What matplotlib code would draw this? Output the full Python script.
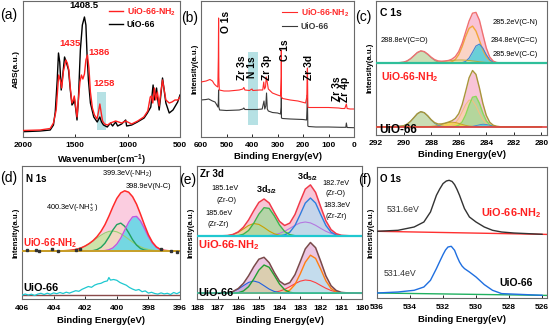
import numpy as np
import matplotlib
matplotlib.use("Agg")
import matplotlib.pyplot as plt
from matplotlib.patches import Rectangle

plt.rcParams['font.family'] = ['Liberation Sans', 'DejaVu Sans']
plt.rcParams['mathtext.fontset'] = 'custom'
plt.rcParams['mathtext.rm'] = 'Liberation Sans'
plt.rcParams['mathtext.it'] = 'Liberation Sans'
plt.rcParams['mathtext.bf'] = 'Liberation Sans:bold'

# ---------------- (a) FTIR ----------------
ftir_w_uio = [2000, 1837, 1740, 1709, 1692, 1673, 1661, 1649, 1635, 1620, 1603, 1587, 1565, 1548, 1532,
              1519, 1510, 1495, 1484, 1471, 1452, 1433, 1413, 1399, 1388, 1375, 1356, 1324, 1291, 1266,
              1250, 1231, 1195, 1164, 1144, 1115, 1096, 1058, 1019, 1010, 962, 907, 843, 811, 779,
              757, 745, 724, 712, 699, 683, 667, 654, 635, 603, 567, 522, 500]
ftir_abs_uio = [5.3, 6, 7, 12, 25, 57, 84, 75, 47, 62, 80, 75, 67, 47, 32,
                34, 39, 27, 17, 37, 87, 112, 120, 112, 82, 57, 34, 20, 15, 20,
                15, 12, 10, 14, 11, 15, 11, 13, 17, 11, 12, 15, 19, 24, 30,
                52, 37, 49, 37, 27, 42, 59, 49, 34, 24, 27, 35, 42]
ftir_w_nh2 = [2000, 1837, 1740, 1709, 1683, 1659, 1644, 1630, 1615, 1591, 1577, 1562, 1548, 1532, 1519,
              1510, 1495, 1484, 1471, 1456, 1442, 1428, 1413, 1399, 1384, 1370, 1356, 1337, 1317, 1293,
              1279, 1266, 1254, 1240, 1221, 1192, 1164, 1115, 1058, 1019, 962, 904, 846, 808, 784,
              774, 760, 745, 731, 716, 699, 683, 667, 654, 635, 603, 577, 548, 519, 500]
ftir_abs_nh2 = [6.5, 7, 8.5, 14, 27, 62, 57, 49, 65, 77, 74, 67, 49, 34, 37,
                41, 29, 20, 37, 55, 62, 58, 63, 77, 82, 69, 45, 29, 22, 18,
                25, 33, 25, 16, 13, 12, 14, 16, 14, 16, 13, 16, 20, 26, 40,
                41, 34, 49, 37, 45, 31, 45, 57, 49, 37, 34, 35, 37, 37, 40]
ftir_box = [1211, 1291, 7, 45]   # w1, w2, y1, y2

# ---------------- (b) XPS survey ----------------
sur_be_nh2 = [600, 580, 565, 555, 548, 540, 534, 532, 531, 530, 528, 510, 490, 450, 436,
              432, 428, 410, 400, 397, 370, 358, 354, 351, 347, 344, 341, 336, 320, 300,
              288, 285.5, 285, 284.5, 280, 250, 220, 190, 185, 183.5, 182.5, 181, 178, 150, 100,
              60, 48, 36, 30, 27, 15, 0]
sur_i_nh2 = [55, 56, 57.5, 56, 53, 51, 50, 80, 119, 60, 47, 46, 46, 47, 48,
             49.5, 47, 46.5, 48, 46.5, 47, 47, 55, 48, 50, 60, 56, 48, 44, 42,
             41, 60, 87, 40, 38.5, 37, 36, 34, 40, 66, 69, 30, 29.5, 29.5, 29.5,
             29, 28.5, 28.5, 33, 28.5, 28, 28]
sur_be_uio = [600, 580, 570, 555, 545, 538, 534, 532, 531, 530, 527, 500, 450, 436, 432,
              428, 380, 360, 353, 350, 346, 343, 340, 336, 320, 300, 288, 285.5, 285, 284.5,
              280, 250, 200, 186, 184, 183, 181, 178, 150, 100, 50, 32, 30, 27, 0]
sur_i_uio = [37, 37.5, 38, 36, 35, 32, 30, 35, 47, 30, 27, 26.5, 27, 28, 29,
             27.5, 27.5, 28, 36, 28, 31, 44, 28, 26, 24.5, 24, 23, 30, 42, 19,
             18.5, 18, 17.5, 17, 30, 42, 11, 10.5, 10, 10, 9.7, 9.7, 14, 9.5, 9.3]
sur_box = [375, 416, 12, 85]

# ---------------- (c) C 1s ----------------
c1s_be = [292.0, 291.0, 290.5, 290.0, 289.75, 289.5, 289.25, 289.0, 288.75, 288.5, 288.25, 288.0,
          287.75, 287.5, 287.25, 287.0, 286.75, 286.5, 286.25, 286.0, 285.75, 285.5, 285.25, 285.0,
          284.75, 284.5, 284.25, 284.0, 283.75, 283.5, 283.25, 283.0, 282.5, 282.0, 281.0, 280.0]
c1s_nh2_env = [0, 0, 0.1, 0.8, 2.0, 4.2, 7.3, 10.5, 12.1, 11.4, 8.9, 5.8,
               3.4, 2.1, 1.8, 2.0, 2.5, 3.8, 6.4, 11.5, 19.9, 30.9, 42.0, 49.8,
               50.6, 42.8, 28.7, 14.9, 5.9, 1.9, 0.5, 0.1, 0, 0, 0, 0]
c1s_nh2_co = [0, 0, 0.1, 0.8, 2.0, 4.2, 7.3, 10.4, 12.0, 11.2, 8.6, 5.4,
              2.7, 1.1, 0.4, 0.1, 0, 0, 0, 0, 0, 0, 0, 0,
              0, 0, 0, 0, 0, 0, 0, 0, 0, 0, 0, 0]
c1s_nh2_cn = [0, 0, 0, 0, 0, 0, 0, 0, 0, 0, 0, 0,
              0, 0, 0, 0.1, 0.3, 1.2, 3.5, 8.4, 16.5, 26.5, 34.6, 36.9,
              31.9, 22.6, 13.0, 6.1, 2.3, 0.7, 0.2, 0, 0, 0, 0, 0]
c1s_nh2_cc = [0, 0, 0, 0, 0, 0, 0, 0, 0, 0, 0, 0,
              0, 0, 0, 0, 0, 0, 0, 0.1, 0.4, 1.6, 4.9, 10.8,
              17.0, 18.9, 14.8, 8.2, 3.2, 0.9, 0.2, 0, 0, 0, 0, 0]
c1s_nh2_c_c = [0, 0, 0, 0, 0, 0, 0, 0.05, 0.1, 0.15, 0.25, 0.4,
               0.65, 1.0, 1.35, 1.75, 2.2, 2.6, 2.85, 3.0, 3.0, 2.8, 2.5, 2.1,
               1.7, 1.25, 0.9, 0.6, 0.4, 0.25, 0.12, 0.07, 0, 0, 0, 0]
c1s_uio_env = [0, 0, 0.1, 0.9, 2.5, 5.3, 9.1, 13.0, 15.0, 14.0, 10.9, 7.0,
               4.1, 2.7, 2.8, 3.5, 4.6, 5.9, 8.3, 13.0, 22.1, 35.2, 48.9, 56.2,
               52.3, 38.8, 23.2, 11.2, 4.4, 1.5, 0.4, 0, 0, 0, 0, 0]
c1s_uio_co = [0, 0, 0.1, 0.9, 2.5, 5.3, 9.1, 13.0, 15.0, 14.0, 10.8, 6.7,
              3.4, 1.4, 0.5, 0.1, 0, 0, 0, 0, 0, 0, 0, 0,
              0, 0, 0, 0, 0, 0, 0, 0, 0, 0, 0, 0]
c1s_uio_yel = [0, 0, 0, 0, 0, 0, 0, 0, 0, 0, 0.1, 0.3,
               0.65, 1.3, 2.25, 3.3, 4.2, 4.5, 4.2, 3.3, 2.25, 1.3, 0.65, 0.3,
               0.1, 0, 0, 0, 0, 0, 0, 0, 0, 0, 0, 0]
c1s_uio_peach = [0, 0, 0, 0, 0, 0, 0, 0, 0, 0, 0, 0,
                 0, 0, 0, 0.1, 0.4, 1.35, 3.7, 8.2, 15.0, 22.1, 26.6, 26.0,
                 20.8, 13.5, 7.1, 3.1, 1.1, 0.3, 0.1, 0, 0, 0, 0, 0]
c1s_uio_green = [0, 0, 0, 0, 0, 0, 0, 0, 0, 0, 0, 0,
                 0, 0, 0, 0, 0, 0, 0.35, 1.5, 4.8, 11.8, 21.5, 29.5,
                 30.3, 23.4, 13.6, 5.9, 1.9, 0.5, 0.1, 0, 0, 0, 0, 0]
c1s_uio_cyan = [0, 0, 0, 0, 0, 0, 0, 0, 0, 0, 0, 0,
                0, 0, 0, 0, 0, 0, 0, 0, 0, 0, 0.1, 0.4,
                1.1, 1.9, 2.5, 2.2, 1.4, 0.65, 0.2, 0, 0, 0, 0, 0]

# ---------------- (d) N 1s ----------------
n1s_be = [406.0, 405.0, 404.0, 403.5, 403.0, 402.75, 402.5, 402.25, 402.0, 401.75, 401.5,
          401.25, 401.0, 400.75, 400.5, 400.25, 400.0, 399.75, 399.5, 399.25, 399.0,
          398.75, 398.5, 398.25, 398.0, 397.75, 397.5, 397.25, 397.0, 396.5, 396.0]
n1s_env = [0, 0, 0, 0.1, 0.6, 1.1, 1.9, 3.2, 5.0, 7.4, 10.4,
           14.4, 19.6, 26.3, 34.8, 44.1, 52.5, 58.1, 60.2, 58.8, 54.3,
           46.8, 36.8, 26.1, 16.3, 8.9, 4.2, 1.7, 0.6, 0, 0]
n1s_nh3 = [0, 0, 0.03, 0.14, 0.6, 1.1, 1.9, 3.2, 5.0, 7.3, 10.0,
           13.0, 15.8, 18.1, 19.6, 20.0, 19.2, 17.3, 14.7, 11.8, 8.9,
           6.3, 4.2, 2.6, 1.6, 0.9, 0.46, 0.2, 0.1, 0, 0]
n1s_nh2 = [0, 0, 0, 0, 0, 0, 0, 0, 0, 0.1, 0.4,
           1.4, 3.7, 7.8, 14.0, 21.0, 26.4, 27.9, 24.7, 18.3, 11.3,
           5.9, 2.5, 1.0, 0.3, 0.1, 0, 0, 0, 0, 0]
n1s_nc = [0, 0, 0, 0, 0, 0, 0, 0, 0, 0, 0,
          0, 0.1, 0.4, 1.2, 3.1, 6.9, 12.9, 20.8, 28.7, 34.1,
          34.6, 30.1, 22.5, 14.4, 7.9, 3.7, 1.5, 0.5, 0.04, 0]
n1s_pts_be = [405.7, 405.1, 404.9, 404.1, 403.7, 402.6, 402.3, 397.2, 396.6, 396.2]
n1s_pts_i = [48.5, 48.3, 47.0, 49.5, 47.2, 48.2, 49.0, 49.5, 47.5, 46.5]
n1s_uio_be = [406.0, 405.8, 405.6, 405.4, 405.2, 405.0, 404.8, 404.6, 404.4, 404.2, 404.0, 403.8, 403.6,
              403.4, 403.2, 403.0, 402.8, 402.6, 402.4, 402.2, 402.0, 401.8, 401.6, 401.4, 401.2, 401.0,
              400.8, 400.6, 400.5, 400.4, 400.2, 400.0, 399.8, 399.6, 399.4, 399.2, 399.0, 398.8, 398.6,
              398.4, 398.2, 398.0, 397.8, 397.6, 397.4, 397.2, 397.0, 396.8, 396.6, 396.4, 396.2, 396.0]
n1s_uio_i = [3.3, 4.5, 3.5, 4.3, 3.0, 4.4, 5.2, 4.0, 5.3, 4.2, 5.6, 4.8, 6.0,
             5.0, 6.3, 5.4, 6.6, 7.8, 7.2, 9.2, 10.6, 12.0, 11.2, 13.4, 14.6, 15.2,
             16.8, 17.6, 21.0, 18.4, 19.0, 18.2, 16.0, 14.6, 13.3, 11.0, 9.4, 8.2, 9.0,
             6.8, 7.6, 5.4, 6.2, 5.0, 4.4, 5.6, 4.6, 5.2, 4.0, 6.0, 4.8, 6.4]

# ---------------- (e) Zr 3d ----------------
zr_be = [188.0, 187.0, 186.5, 186.25, 186.0, 185.75, 185.5, 185.25, 185.0, 184.75, 184.5, 184.25,
         184.0, 183.75, 183.5, 183.25, 183.0, 182.75, 182.5, 182.25, 182.0, 181.75, 181.5, 181.25,
         181.0, 180.5, 180.0]
zr_nh2_env = [0, 0, 0.5, 1.6, 4.1, 8.8, 16.0, 25.2, 33.6, 37.0, 33.0, 23.5,
              14.6, 10.5, 12.9, 21.5, 34.6, 46.9, 51.1, 43.6, 29.0, 15.2, 6.4, 2.3,
              0.7, 0.1, 0]
zr_nh2_zro32 = [0, 0, 0, 0.1, 0.4, 1.8, 5.5, 12.7, 21.9, 28.3, 27.6, 20.1,
                11.0, 4.5, 1.4, 0.3, 0.05, 0, 0, 0, 0, 0, 0, 0, 0, 0, 0]
zr_nh2_zrzr32 = [0, 0, 0.5, 1.5, 3.7, 7.0, 10.5, 12.5, 11.6, 8.5, 4.9, 2.2,
                 0.8, 0.2, 0.05, 0, 0, 0, 0, 0, 0, 0, 0, 0, 0, 0, 0]
zr_nh2_zro52 = [0, 0, 0, 0, 0, 0, 0, 0, 0, 0, 0, 0.03,
                0.2, 1.1, 3.8, 10.5, 21.4, 32.9, 38.0, 32.9, 21.4, 10.5, 3.8, 1.1,
                0.2, 0, 0]
zr_nh2_zrzr52 = [0, 0, 0, 0, 0, 0, 0, 0, 0.05, 0.2, 0.5, 1.2,
                 2.6, 4.7, 7.6, 10.7, 13.1, 14.0, 13.1, 10.7, 7.6, 4.7, 2.6, 1.2,
                 0.5, 0.05, 0]
zr_uio_env = [0, 0, 0.6, 1.9, 4.8, 9.9, 17.5, 26.5, 34.1, 36.0, 30.6, 20.7,
              12.2, 8.6, 10.7, 18.6, 31.3, 44.4, 50.8, 45.6, 31.9, 17.4, 7.6, 2.8,
              0.9, 0.1, 0]
zr_uio_zro32 = [0, 0, 0, 0.1, 0.6, 2.3, 6.6, 14.2, 23.2, 28.3, 26.0, 17.9,
                9.3, 3.6, 1.0, 0.2, 0, 0, 0, 0, 0, 0, 0, 0, 0, 0, 0]
zr_uio_zrzr32 = [0, 0, 0.6, 1.8, 4.2, 7.6, 10.9, 12.3, 10.9, 7.6, 4.2, 1.8,
                 0.6, 0.2, 0, 0, 0, 0, 0, 0, 0, 0, 0, 0, 0, 0, 0]
zr_uio_zro52 = [0, 0, 0, 0, 0, 0, 0, 0, 0, 0, 0, 0,
                0.15, 0.8, 3.1, 8.8, 19.2, 31.1, 38.1, 34.9, 24.1, 12.4, 4.8, 1.4,
                0.3, 0, 0]
zr_uio_zrzr52 = [0, 0, 0, 0, 0, 0, 0, 0, 0, 0.1, 0.4, 1.0,
                 2.1, 4.0, 6.6, 9.6, 12.1, 13.3, 12.7, 10.7, 7.8, 5.0, 2.8, 1.4,
                 0.6, 0.1, 0]

# ---------------- (f) O 1s ----------------
o1s_nh2_be = [536.0, 534.73, 533.75, 533.16, 532.76, 532.4, 532.2, 532.0, 531.8, 531.63, 531.45, 531.3,
              531.15, 531.0, 530.85, 530.7, 530.4, 530.0, 529.5, 529.0, 528.45, 527.7, 526.0]
o1s_nh2_i = [65.7, 66.7, 70.0, 75.0, 85.0, 101.7, 108.0, 113.4, 116.0, 116.7, 115.5, 112.4,
             107.5, 101.7, 95.0, 88.4, 80.0, 75.0, 70.0, 66.7, 65.0, 64.0, 62.7]
o1s_uio_be = [536.0, 534.73, 533.75, 533.16, 532.76, 532.4, 532.2, 532.0, 531.85, 531.7, 531.5,
              531.3, 531.15, 531.0, 530.85, 530.7, 530.4, 530.0, 529.5, 529.0, 528.45, 526.0]
o1s_uio_i = [4.0, 5.0, 6.7, 10.0, 16.7, 28.4, 35.5, 42.4, 47.0, 50.0, 50.7,
             46.7, 40.5, 35.0, 31.0, 28.4, 25.0, 20.0, 12.4, 6.7, 3.4, 1.7]
o1s_bg_be = [536.0, 525.7]
o1s_nh2_bg = [65.7, 62.6]
o1s_uio_bg = [4.0, 1.6]

NH2 = r'UiO-66-NH$_\mathbf{2}$'
W, H = 550, 331
fig = plt.figure(figsize=(W / 100, H / 100), dpi=100)


def box(l, t, r, b):
    return [l / W, 1 - b / H, (r - l) / W, (b - t) / H]


def ft(x, y, s, **kw):
    kw.setdefault('va', 'center')
    fig.text(x / W, 1 - y / H, s, **kw)


def arrow(x1, y1, x2, y2):
    fig.axes[0].annotate('', xy=(x2, H - y2), xytext=(x1, H - y1),
                         xycoords='figure pixels', textcoords='figure pixels',
                         arrowprops=dict(arrowstyle='-|>', lw=0.45, color='#222222',
                                         mutation_scale=3.5, shrinkA=0, shrinkB=0))


def style(ax, xlim, ylim, ticks, xlabel, ylabel, pad=3.5, lpad=2.5):
    ax.set_xlim(*xlim)
    ax.set_ylim(*ylim)
    ax.set_xticks(ticks)
    ax.set_xticklabels([str(t) for t in ticks], fontsize=6, fontweight='bold')
    ax.set_yticks([])
    ax.tick_params(axis='x', direction='in', length=2.5, width=0.6, pad=pad)
    for s in ax.spines.values():
        s.set_color('#6a6a6a')
        s.set_linewidth(0.8)
    ax.set_xlabel(xlabel, fontsize=6.8, fontweight='bold', labelpad=lpad)
    ax.set_ylabel(ylabel, fontsize=5.6, fontweight='bold', labelpad=2)


def comp(ax, x, y, off, fc, ec, lw=0.8, alpha=0.85):
    y = np.array(y) + off
    ax.fill_between(x, off, y, color=fc, alpha=alpha, lw=0, zorder=2)
    ax.plot(x, y, color=ec, lw=lw, zorder=3)


# (a)
ax = fig.add_axes(box(23, 1, 180, 137))
ax.add_patch(Rectangle((ftir_box[0], ftir_box[2]), ftir_box[1] - ftir_box[0], ftir_box[3] - ftir_box[2],
                       color='#a9dce0', alpha=0.85, lw=0, zorder=1))
l1, = ax.plot(ftir_w_nh2, ftir_abs_nh2, color='#ff2020', lw=1.0, zorder=3)
l2, = ax.plot(ftir_w_uio, ftir_abs_uio, color='black', lw=1.0, zorder=2)
style(ax, (2000, 500), (0, 136), [2000, 1500, 1000, 500], r'Wavenumber(cm$^\mathbf{-1}$)', 'ABS(a.u.)')
ax.yaxis.label.set_fontsize(6)
ax.legend([l1, l2], [NH2, 'UiO-66'], loc='upper right', frameon=False, labelcolor=['#ff2020', 'black'],
          prop={'weight': 'bold', 'size': 6.3}, handlelength=1.6, handletextpad=0.4,
          labelspacing=0.25, borderaxespad=0.3, borderpad=0.2)
ft(84, 6, '1408.5', fontsize=6.8, fontweight='bold', ha='center')
ft(70, 44, '1435', fontsize=6.8, fontweight='bold', ha='center', color='#ff2020')
ft(99.5, 52.5, '1386', fontsize=6.8, fontweight='bold', ha='center', color='#ff2020')
ft(104, 84, '1258', fontsize=6.8, fontweight='bold', ha='center', color='#ff2020')

# (b)
ax = fig.add_axes(box(201, 1, 354, 137))
ax.add_patch(Rectangle((sur_box[0], sur_box[2]), sur_box[1] - sur_box[0], sur_box[3] - sur_box[2],
                       color='#a9dce0', alpha=0.85, lw=0, zorder=1))
l1, = ax.plot(sur_be_nh2, sur_i_nh2, color='#ff2a2a', lw=0.8, zorder=3)
l2, = ax.plot(sur_be_uio, sur_i_uio, color='#3a3a3a', lw=0.8, zorder=2)
style(ax, (600, 0), (0, 136), [600, 500, 400, 300, 200, 100, 0], 'Binding Energy(eV)', 'Intensity(a.u.)')
ax.legend([l1, l2], [NH2, 'UiO-66'], loc='upper right', frameon=False, labelcolor=['#ff2a2a', '#3a3a3a'],
          prop={'weight': 'bold', 'size': 6.2}, handlelength=1.8, handletextpad=0.4,
          labelspacing=0.35, borderaxespad=0.3, borderpad=0.3)
for x, y, s in [(225.8, 21.7, 'O 1s'), (241.7, 68, 'Zr 3s'), (252.3, 67, 'N 1s'), (267.5, 67.5, 'Zr 3p'),
                (285.5, 50, 'C 1s'), (309, 67.5, 'Zr 3d'), (337, 89, 'Zr 3s'), (345.5, 89, 'Zr 4p')]:
    ft(x, y, s, fontsize=7.4, fontweight='bold', ha='center', rotation=90)

# (c)
ax = fig.add_axes(box(376, 1, 547, 135))
top, bot = 72, 8.3
ax.fill_between(c1s_be, top, np.array(c1s_nh2_env) + top, color='#f9c3d6', lw=0, zorder=1)
comp(ax, c1s_be, c1s_nh2_cn, top, '#fcd8c4', '#f2a63a', lw=1.0)
comp(ax, c1s_be, c1s_nh2_cc, top, '#4fcfdc', '#3a86d8')
comp(ax, c1s_be, c1s_nh2_co, top, '#c4e4b0', '#7aaa90')
comp(ax, c1s_be, c1s_nh2_c_c, top, '#efe39a', '#bfa83a', lw=0.7)
ax.plot(c1s_be, np.array(c1s_nh2_env) + top, color='#f07070', lw=1.0, zorder=4)
ax.axhline(top, color='#2fbf9a', lw=1.6, zorder=4)
ax.fill_between(c1s_be, bot, np.array(c1s_uio_env) + bot, color='#f8c4d8', lw=0, zorder=1)
comp(ax, c1s_be, c1s_uio_peach, bot, '#fbcfae', '#f2c080')
comp(ax, c1s_be, c1s_uio_green, bot, '#a8d898', '#8ad85a', lw=1.0)
comp(ax, c1s_be, c1s_uio_cyan, bot, '#50cfe0', '#3a86d8', lw=0.6)
comp(ax, c1s_be, c1s_uio_yel, bot, '#f2da3a', '#c9a227', lw=0.7)
comp(ax, c1s_be, c1s_uio_co, bot, '#c2e2ae', '#6a9ea8')
ax.plot(c1s_be, np.array(c1s_uio_env) + bot, color='#a8963a', lw=1.0, zorder=4)
ax.axhline(bot, color='#e04040', lw=1.2, zorder=4)
style(ax, (292, 279.6), (0, 134), [292, 290, 288, 286, 284, 282, 280], 'Binding Energy(eV)', 'Intensity(a.u.)')
ft(380, 13, 'C 1s', fontsize=7.5, fontweight='bold')
ft(381, 40, '288.8eV(C=O)', fontsize=5.3)
ft(493, 23, '285.2eV(C-N)', fontsize=5.3)
ft(491, 40, '284.8eV(C=C)', fontsize=5.3)
ft(493, 54, '285.9eV(C-C)', fontsize=5.3)
ft(381, 77, NH2, fontsize=7.5, fontweight='bold', color='#ff2020')
ft(379, 130, 'UiO-66', fontsize=8.5, fontweight='bold')

# (d)
ax = fig.add_axes(box(22, 166, 180, 299))
top, bot = 48, 4.5
ax.fill_between(n1s_be, top, np.array(n1s_env) + top, color='#fbcde0', lw=0, zorder=1)
comp(ax, n1s_be, n1s_nh3, top, '#c6e7a0', '#98d070')
comp(ax, n1s_be, n1s_nh2, top, '#f8d6c6', '#22a060', lw=1.0)
comp(ax, n1s_be, n1s_nc, top, '#5ed8e8', '#c058e0', lw=1.0)
ax.plot(n1s_be, np.array(n1s_env) + top, color='#ff2a2a', lw=1.1, zorder=4)
ax.axhline(top, color='#c8a028', lw=1.4, zorder=4)
ax.plot(n1s_pts_be, np.array(n1s_pts_i) + 0.7, ls='none', marker='s', ms=1.6, color='#333333', zorder=5)
ax.axhline(bot, color='#8a4a4a', lw=1.0, zorder=2)
ax.plot(n1s_uio_be, np.array(n1s_uio_i) + 0.5, color='#1ec8d0', lw=0.9, zorder=3)
style(ax, (406, 396), (0, 133), [406, 404, 402, 400, 398, 396], 'Binding Energy(eV)', 'Intensity(a.u.)',
      pad=4.5, lpad=3)
ft(26, 179, 'N 1s', fontsize=7, fontweight='bold')
ft(127, 174, r'399.3eV(-NH$_2$)', fontsize=5.3, ha='center')
ft(148, 187, '398.9eV(N-C)', fontsize=5.3, ha='center')
ft(72.5, 208, r'400.3eV(-NH$_3^+$)', fontsize=5.3, ha='center')
ft(23, 243, NH2, fontsize=7, fontweight='bold', color='#ff2020')
ft(23, 288, 'UiO-66', fontsize=7.8, fontweight='bold')

# (e)
ax = fig.add_axes(box(197, 166, 362, 299))
top, bot = 63, 5.7
ax.fill_between(zr_be, top, np.array(zr_nh2_env) + top, color='#f8c5d6', lw=0, zorder=1)
comp(ax, zr_be, zr_nh2_zrzr52, top, '#e6dcc4', '#b478e0')
comp(ax, zr_be, zr_nh2_zro52, top, '#bcd8ef', '#2a7fe0', lw=1.0)
comp(ax, zr_be, zr_nh2_zrzr32, top, '#e8d8a0', '#c8a000')
comp(ax, zr_be, zr_nh2_zro32, top, '#a8d8a0', '#3cb44b', lw=1.0)
ax.plot(zr_be, np.array(zr_nh2_env) + top, color='#f03a4a', lw=1.1, zorder=4)
ax.axhline(top, color='#20c8d0', lw=1.6, zorder=4)
ax.fill_between(zr_be, bot, np.array(zr_uio_env) + bot, color='#ecc6e2', lw=0, zorder=1)
comp(ax, zr_be, zr_uio_zrzr52, bot, '#fbe0b8', '#ff4040')
comp(ax, zr_be, zr_uio_zro52, bot, '#bde0f0', '#ff7f10', lw=1.0)
comp(ax, zr_be, zr_uio_zrzr32, bot, '#c8a8e0', '#2060e0')
comp(ax, zr_be, zr_uio_zro32, bot, '#d8d0a8', '#22a030', lw=1.0)
ax.plot(zr_be, np.array(zr_uio_env) + bot, color='#7a4a4a', lw=1.1, zorder=4)
ax.axhline(bot, color='#40c0a0', lw=1.2, zorder=4)
style(ax, (188, 180), (0, 133), [188, 187, 186, 185, 184, 183, 182, 181, 180], 'Binding Energy(eV)',
      'Intensity(a.u.)', pad=4.5, lpad=3)
ft(200, 174, 'Zr 3d', fontsize=7, fontweight='bold')
ft(266.7, 190, r'3d$_\mathbf{3/2}$', fontsize=6.5, fontweight='bold', ha='center')
ft(307.5, 177, r'3d$_\mathbf{5/2}$', fontsize=6.5, fontweight='bold', ha='center')
for x, y, s in [(225.5, 188.3, '185.1eV'), (226.5, 200, '(Zr-O)'), (219, 213.3, '185.6eV'),
                (218.5, 224.3, '(Zr-Zr)'), (336, 183.3, '182.7eV'), (336, 193.3, '(Zr-O)'),
                (337.3, 205.7, '183.3eV'), (336, 216.7, '(Zr-Zr)')]:
    ft(x, y, s, fontsize=5.2, ha='center')
ft(198, 245, NH2, fontsize=8, fontweight='bold', color='#ff2020')
ft(198, 293, 'UiO-66', fontsize=7.8, fontweight='bold')

# (f)
ax = fig.add_axes(box(377, 167, 547, 298))
ax.plot(o1s_bg_be, np.array(o1s_nh2_bg) + 1, color='#ff3030', lw=1.0, zorder=2)
ax.plot(o1s_nh2_be, np.array(o1s_nh2_i) + 1, color='#333333', lw=1.0, zorder=3)
ax.plot(o1s_bg_be, np.array(o1s_uio_bg) + 1, color='#20b060', lw=1.0, zorder=2)
ax.plot(o1s_uio_be, np.array(o1s_uio_i) + 1, color='#1f6fe0', lw=1.0, zorder=3)
style(ax, (536, 525.7), (0, 131), [536, 534, 532, 530, 528, 526], 'Binding Energy(eV)', 'Intensity(a.u.)',
      pad=4.5, lpad=3)
ft(380, 179, 'O 1s', fontsize=7, fontweight='bold')
ft(403.5, 210, '531.6eV', fontsize=6.3, ha='center', color='#333333')
ft(511.7, 213.3, NH2, fontsize=7.8, fontweight='bold', color='#ff2020', ha='center')
ft(400.5, 273.3, '531.4eV', fontsize=6.3, ha='center', color='#333333')
ft(516.5, 283.3, 'UiO-66', fontsize=7.5, fontweight='bold', ha='center')

# annotation pointers
for a in [(492, 23, 475, 25), (490, 40.5, 480, 43.5), (492, 54.5, 462, 61.5),
          (125, 179, 122, 216), (141, 190.5, 130, 217), (99, 212, 113, 231),
          (240, 201.7, 258.3, 208.3), (231.7, 221.7, 250, 226), (323.3, 193.3, 310, 198.3),
          (323.3, 214.3, 306.7, 221.7)]:
    arrow(*a)

# panel letters
for x, y, s in [(0, 15, '(a)'), (181, 18, '(b)'), (355, 17, '(c)'), (0, 178, '(d)'), (179, 180, '(e)'),
                (358, 180, '(f)')]:
    ft(x, y, s, fontsize=10)

fig.savefig('out.png', dpi=100)
